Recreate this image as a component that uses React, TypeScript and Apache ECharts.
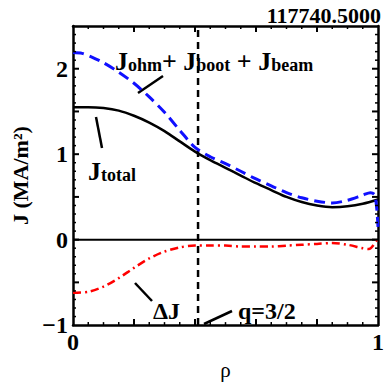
import React, { useEffect, useRef } from "react";
import * as echarts from "echarts";

const rhoTotal = [0, 0.05, 0.1, 0.15, 0.2, 0.25, 0.3, 0.35, 0.4, 0.45, 0.5, 0.55, 0.6, 0.65, 0.7, 0.75, 0.8, 0.85, 0.9, 0.95, 1.0];
const jTotal = [1.55, 1.55, 1.54, 1.51, 1.45, 1.37, 1.27, 1.15, 1.03, 0.93, 0.84, 0.75, 0.66, 0.58, 0.5, 0.44, 0.4, 0.38, 0.39, 0.42, 0.47];

const rhoSum = [0, 0.03, 0.06, 0.1, 0.15, 0.2, 0.25, 0.3, 0.35, 0.4, 0.45, 0.5, 0.55, 0.6, 0.65, 0.7, 0.75, 0.8, 0.85, 0.9, 0.95, 0.975, 0.99, 1.0];
const jSum = [2.19, 2.18, 2.14, 2.07, 1.96, 1.83, 1.67, 1.49, 1.28, 1.08, 0.97, 0.89, 0.8, 0.71, 0.63, 0.55, 0.49, 0.45, 0.43, 0.46, 0.52, 0.55, 0.52, 0.15];

const rhoDelta = [0, 0.05, 0.1, 0.15, 0.2, 0.25, 0.3, 0.35, 0.4, 0.45, 0.5, 0.55, 0.6, 0.65, 0.7, 0.75, 0.8, 0.85, 0.9, 0.95, 0.97, 1.0];
const jDelta = [-0.62, -0.61, -0.55, -0.45, -0.33, -0.22, -0.14, -0.09, -0.07, -0.07, -0.07, -0.08, -0.08, -0.08, -0.07, -0.06, -0.05, -0.04, -0.06, -0.1, -0.11, 0.02];

const qRho = 0.41;
const xMin = 0;
const xMax = 1;
const yMin = -1;
const yMax = 2.5;
const shotLabel = "117740.5000";

const xMajorTicks = [0.2, 0.4, 0.6, 0.8];
const xMinorTicks = [0.05, 0.1, 0.15, 0.25, 0.3, 0.35, 0.45, 0.5, 0.55, 0.65, 0.7, 0.75, 0.85, 0.9, 0.95];
const yMajorTicks = [-0.5, 0, 0.5, 1, 1.5, 2];
const yMinorTicks = [
  -0.9, -0.8, -0.7, -0.6, -0.4, -0.3, -0.2, -0.1, 0.1, 0.2, 0.3, 0.4, 0.6, 0.7, 0.8, 0.9,
  1.1, 1.2, 1.3, 1.4, 1.6, 1.7, 1.8, 1.9, 2.1, 2.2, 2.3, 2.4,
];

const FONT = "Liberation Serif";

function pairs(xs: number[], ys: number[]) {
  return xs.map((x, i) => [x, ys[i]]);
}

function axisLine() {
  return { show: true, onZero: false, lineStyle: { color: "#000", width: 2.5 } };
}

export default function App() {
  const ref = useRef<HTMLDivElement>(null);
  useEffect(() => {
    if (!ref.current) return;
    const chart = echarts.init(ref.current, undefined, { renderer: "svg" });

    const option: any = {
      animation: false,
      grid: { left: 73, right: 6, top: 26, bottom: 42 },
      xAxis: [
        {
          type: "value", min: xMin, max: xMax, interval: 0.2, position: "bottom",
          axisLine: axisLine(), axisTick: { show: false }, minorTick: { show: false }, splitLine: { show: false },
          axisLabel: {
            show: true, margin: 5, color: "#000", fontFamily: FONT, fontWeight: "bold", fontSize: 24,
            formatter: (v: number) => (Math.abs(v) < 1e-9 ? "0" : Math.abs(v - 1) < 1e-9 ? "1" : ""),
          },
          name: "ρ", nameLocation: "middle", nameGap: 22,
          nameTextStyle: { color: "#000", fontFamily: FONT, fontSize: 21 },
        },
        {
          type: "value", min: xMin, max: xMax, interval: 0.2, position: "top",
          axisLine: axisLine(), axisTick: { show: false }, minorTick: { show: false }, splitLine: { show: false },
          axisLabel: { show: false },
        },
      ],
      yAxis: [
        {
          type: "value", min: yMin, max: yMax, interval: 0.5, position: "left",
          axisLine: axisLine(), axisTick: { show: false }, minorTick: { show: false }, splitLine: { show: false },
          axisLabel: {
            show: true, margin: 5, color: "#000", fontFamily: FONT, fontWeight: "bold", fontSize: 24,
            formatter: (v: number) => {
              const r = Math.round(v);
              if (Math.abs(v - r) > 1e-9 || r > 2) return "";
              return r < 0 ? "\u2212" + Math.abs(r) : String(r);
            },
          },
          name: "J (MA/m²)", nameLocation: "middle", nameGap: 26, nameRotate: 90,
          nameTextStyle: { color: "#000", fontFamily: FONT, fontWeight: "bold", fontSize: 22 },
        },
        {
          type: "value", min: yMin, max: yMax, interval: 0.5, position: "right",
          axisLine: axisLine(), axisTick: { show: false }, minorTick: { show: false }, splitLine: { show: false },
          axisLabel: { show: false },
        },
      ],
      series: [
        { name: "zero", type: "line", data: [[xMin, 0], [xMax, 0]], showSymbol: false, silent: true, lineStyle: { color: "#000", width: 2 } },
        { name: "q=3/2", type: "line", data: [[qRho, yMin], [qRho, yMax]], showSymbol: false, silent: true, lineStyle: { color: "#000", width: 2.5, type: [7, 5] } },
        { name: "Jtotal", type: "line", data: pairs(rhoTotal, jTotal), smooth: 0.3, showSymbol: false, lineStyle: { color: "#000", width: 2.5 } },
        { name: "Jsum", type: "line", data: pairs(rhoSum, jSum), smooth: 0.3, showSymbol: false, lineStyle: { color: "#1010ff", width: 3, type: [11, 6] } },
        { name: "dJ", type: "line", data: pairs(rhoDelta, jDelta), smooth: 0.3, showSymbol: false, lineStyle: { color: "#ff0000", width: 2.5, type: [8, 4, 2, 4] } },
      ],
    };
    chart.setOption(option);

    // ticks on all four sides, pointing inward, placed through the chart's own scales
    const tickEls: any[] = [];
    const px = (x: number, y: number) => chart.convertToPixel({ gridIndex: 0 }, [x, y]) as number[];
    const addX = (v: number, len: number, w: number) => {
      const b = px(v, yMin);
      const t = px(v, yMax);
      tickEls.push({ type: "line", z: 100, shape: { x1: b[0], y1: b[1], x2: b[0], y2: b[1] - len }, style: { stroke: "#000", lineWidth: w } });
      tickEls.push({ type: "line", z: 100, shape: { x1: t[0], y1: t[1], x2: t[0], y2: t[1] + len }, style: { stroke: "#000", lineWidth: w } });
    };
    const addY = (v: number, len: number, w: number) => {
      const l = px(xMin, v);
      const r = px(xMax, v);
      tickEls.push({ type: "line", z: 100, shape: { x1: l[0], y1: l[1], x2: l[0] + len, y2: l[1] }, style: { stroke: "#000", lineWidth: w } });
      tickEls.push({ type: "line", z: 100, shape: { x1: r[0], y1: r[1], x2: r[0] - len, y2: r[1] }, style: { stroke: "#000", lineWidth: w } });
    };
    xMajorTicks.forEach((v) => addX(v, 6, 2));
    xMinorTicks.forEach((v) => addX(v, 3, 1.5));
    yMajorTicks.forEach((v) => addY(v, 6, 2));
    yMinorTicks.forEach((v) => addY(v, 3, 1.5));

    const rich = {
      J: { fontFamily: FONT, fontWeight: "bold", fontSize: 26, fill: "#000", verticalAlign: "bottom", lineHeight: 28 },
      s: { fontFamily: FONT, fontWeight: "bold", fontSize: 18, fill: "#000", verticalAlign: "bottom", lineHeight: 19 },
    };

    chart.setOption({
      graphic: [
        ...tickEls,
        { type: "text", x: 381, y: 15, style: { text: shotLabel, align: "right", verticalAlign: "middle", fill: "#000", font: `bold 22px "${FONT}"` } },
        { type: "text", x: 115, y: 60, style: { text: "{J|J}{s|ohm}{J|+ J}{s|boot}{J| + J}{s|beam}", verticalAlign: "middle", rich } },
        { type: "text", x: 88, y: 170, style: { text: "{J|J}{s|total}", verticalAlign: "middle", rich } },
        { type: "text", x: 153, y: 311, style: { text: "ΔJ", verticalAlign: "middle", fill: "#000", font: `bold 24px "${FONT}"` } },
        { type: "text", x: 238, y: 311, style: { text: "q=3/2", verticalAlign: "middle", fill: "#000", font: `bold 24px "${FONT}"` } },
        { type: "line", shape: { x1: 138, y1: 93, x2: 163, y2: 76 }, style: { stroke: "#000", lineWidth: 2.5 } },
        { type: "line", shape: { x1: 96, y1: 117, x2: 102, y2: 148 }, style: { stroke: "#000", lineWidth: 2.5 } },
        { type: "line", shape: { x1: 135, y1: 283, x2: 152, y2: 301 }, style: { stroke: "#000", lineWidth: 2.5 } },
        { type: "line", shape: { x1: 204, y1: 324, x2: 232, y2: 311 }, style: { stroke: "#000", lineWidth: 2.5 } },
      ],
    });
    return () => chart.dispose();
  }, []);
  return <div ref={ref} style={{ width: 387, height: 385, position: "absolute", left: 0, top: 0 }} />;
}
